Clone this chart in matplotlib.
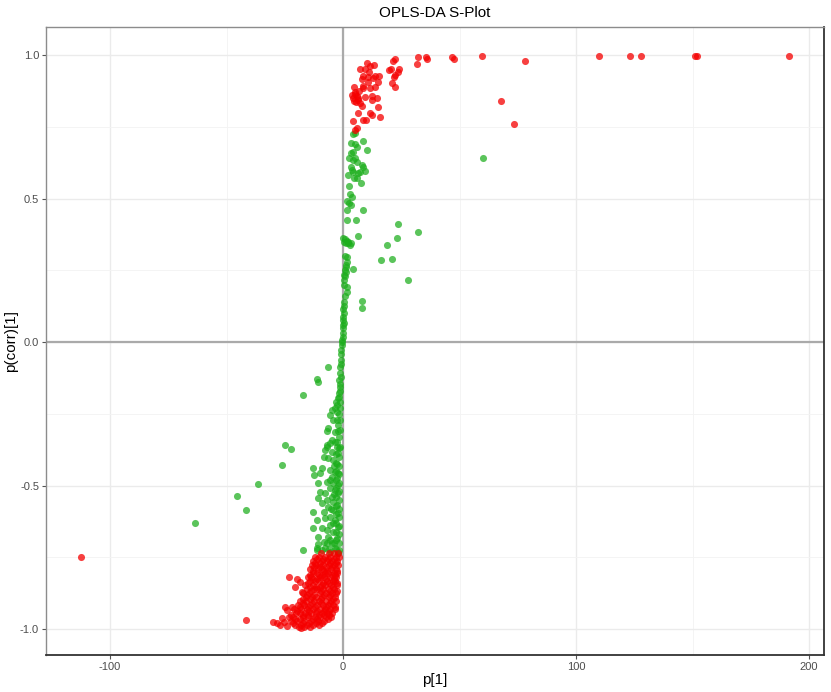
import matplotlib
matplotlib.use("Agg")
import matplotlib.pyplot as plt
from matplotlib.ticker import FixedLocator
import numpy as np

# p[1], p(corr)[1]
red_upper = [
    (32.3, 0.994), (31.9, 0.969), (35.5, 0.992), (36.2, 0.986), (46.9, 0.992), (47.8, 0.986),
    (59.8, 0.995), (78.1, 0.978), (67.7, 0.840), (73.4, 0.758), (109.7, 0.997), (123.2, 0.997),
    (127.9, 0.997), (151.1, 0.997), (151.8, 0.997), (191.3, 0.997),
    (22.3, 0.986), (21.6, 0.979), (20.5, 0.953), (19.9, 0.948), (24.2, 0.951), (23.7, 0.942),
    (22.3, 0.930), (21.9, 0.922), (20.9, 0.901), (22.3, 0.887),
    (10.2, 0.971), (11.6, 0.963), (13.4, 0.965), (7.3, 0.951), (9.4, 0.950), (8.7, 0.928),
    (10.9, 0.924), (13.7, 0.928), (15.6, 0.927), (8.0, 0.915), (13.0, 0.919), (15.2, 0.905),
    (4.7, 0.890), (8.7, 0.893), (8.5, 0.884), (11.6, 0.886), (13.7, 0.887), (5.2, 0.872),
    (5.9, 0.858), (4.4, 0.849), (6.6, 0.849), (9.4, 0.855), (12.3, 0.858), (14.5, 0.851),
    (5.6, 0.837), (7.3, 0.832), (8.0, 0.822), (12.3, 0.843), (15.2, 0.820), (6.6, 0.797),
    (11.6, 0.797), (12.3, 0.791), (15.9, 0.783), (4.4, 0.771), (8.7, 0.774), (9.9, 0.774),
    (5.2, 0.739), (5.9, 0.745), (3.7, 0.860), (5.0, 0.865), (6.2, 0.845), (4.8, 0.840),
    (7.0, 0.875), (10.5, 0.905), (11.0, 0.940),
]

red_lower_rows = {
    -0.735: [-9.5, -6.2, -3.8, -2.1],
    -0.748: [-12.1, -10.3, -7.9, -5.4, -3.1, -1.9],
    -0.755: [-11.0, -8.6, -6.3, -4.0],
    -0.762: [-12.8, -9.2, -7.0, -4.6, -2.6],
    -0.769: [-11.9, -10.1, -5.5, -3.2],
    -0.776: [-13.4, -11.6, -8.5, -6.1, -3.9, -2.3],
    -0.783: [-12.5, -9.9, -7.3, -4.7],
    -0.790: [-14.2, -10.7, -9.0, -5.3, -3.2],
    -0.797: [-13.0, -8.1, -6.9, -2.6],
    -0.803: [-12.9, -11.2, -7.6, -6.4, -4.1, -2.4],
    -0.811: [-14.0, -10.5, -9.2, -4.9, -3.5],
    -0.818: [-15.1, -13.6, -9.8, -8.2, -5.6, -2.9],
    -0.825: [-12.7, -11.0, -7.4, -4.0],
    -0.832: [-14.4, -11.9, -10.4, -6.9, -4.5, -3.3],
    -0.839: [-15.0, -8.6, -6.0, -2.6],
    -0.846: [-16.2, -13.0, -9.1, -7.8, -5.2, -2.8],
    -0.854: [-14.2, -11.8, -10.0, -4.3],
    -0.861: [-15.3, -12.6, -11.1, -8.7, -6.3, -3.9],
    -0.868: [-13.9, -9.4, -5.5, -2.7],
    -0.874: [-17.1, -14.8, -10.0, -7.3, -4.8, -2.9],
    -0.881: [-15.5, -12.3, -8.1, -5.7],
    -0.888: [-16.0, -13.2, -11.7, -8.9, -6.1, -3.6],
    -0.895: [-17.2, -14.4, -9.6, -4.5],
    -0.902: [-18.3, -15.7, -12.4, -10.2, -7.5, -5.0, -3.1],
    -0.909: [-17.0, -13.3, -9.3, -5.8],
    -0.916: [-19.4, -16.8, -14.0, -11.3, -8.6, -6.6, -4.2],
    -0.923: [-18.4, -15.1, -12.1, -7.3, -3.6],
    -0.930: [-21.2, -17.9, -15.4, -12.9, -10.1, -7.9, -5.4, -3.5],
    -0.937: [-19.6, -14.6, -11.0, -8.4, -6.0],
    -0.944: [-20.1, -18.6, -16.2, -13.7, -11.5, -9.0, -6.8, -4.6],
    -0.951: [-22.2, -17.4, -15.0, -10.4, -8.0, -5.9],
    -0.958: [-23.4, -21.6, -17.3, -14.9, -12.2, -9.7, -7.4, -5.3],
    -0.964: [-20.5, -18.4, -13.1, -11.0, -6.6],
    -0.971: [-22.3, -19.8, -16.6, -13.8, -10.9, -8.3],
    -0.978: [-21.5, -17.4, -14.6, -11.7, -9.2],
    -0.984: [-20.7, -18.2, -15.6, -12.7, -10.2],
    -0.993: [-19.0, -16.9, -14.1],
}

red_lower_extra = [
    (-23.0, -0.818), (-19.9, -0.827), (-18.5, -0.835), (-20.6, -0.852), (-17.7, -0.870),
    (-24.9, -0.922), (-24.2, -0.934), (-22.0, -0.922), (-29.9, -0.974), (-28.5, -0.980),
    (-27.0, -0.986), (-25.5, -0.975), (-26.0, -0.960), (-24.0, -0.990), (-18.0, -0.995),
    (-41.8, -0.969), (-112.4, -0.749),
]

green_upper = [
    (4.4, 0.725), (5.2, 0.729), (3.3, 0.694), (5.2, 0.690), (5.9, 0.681), (8.5, 0.701),
    (10.4, 0.669), (4.4, 0.663), (3.3, 0.657), (2.7, 0.643), (5.2, 0.643), (4.2, 0.634),
    (5.9, 0.628), (8.0, 0.617), (8.7, 0.611), (9.4, 0.597), (3.3, 0.611), (3.7, 0.599),
    (4.4, 0.593), (7.3, 0.593), (6.6, 0.588), (2.3, 0.582), (4.7, 0.570), (6.1, 0.570),
    (7.6, 0.553), (2.7, 0.544), (3.0, 0.516), (3.7, 0.506), (1.8, 0.492), (2.7, 0.485),
    (3.3, 0.477), (1.6, 0.460), (8.5, 0.460), (1.8, 0.425), (5.6, 0.427), (6.6, 0.369),
    (23.7, 0.410), (32.0, 0.382), (23.0, 0.361), (18.8, 0.338), (60.1, 0.641),
    (0.1, 0.361), (1.0, 0.360), (0.4, 0.349), (1.6, 0.353), (2.3, 0.344), (3.3, 0.346),
    (3.0, 0.338), (1.2, 0.345), (2.0, 0.350),
    (16.2, 0.286), (20.9, 0.289), (27.8, 0.216),
    (1.6, 0.297), (1.8, 0.280), (1.3, 0.262), (0.9, 0.251), (0.4, 0.233), (0.4, 0.216),
    (1.3, 0.245), (4.2, 0.253), (1.8, 0.191), (1.6, 0.175), (8.0, 0.143), (8.0, 0.120),
    (0.4, 0.125), (0.1, 0.117), (0.1, 0.088), (0.1, 0.077), (-0.1, 0.059), (-0.1, 0.048),
    (-0.1, 0.018), (-0.6, 0.007), (0.7, 0.300), (1.1, 0.270), (0.8, 0.230), (0.6, 0.200),
    (0.9, 0.160), (0.5, 0.140), (0.3, 0.100), (0.2, 0.065), (0.0, 0.030),
]

green_middle = [
    (-0.6, -0.010), (-0.6, 0.001), (-0.9, -0.028), (-1.0, -0.063), (-1.3, -0.086),
    (-1.3, -0.109), (-1.6, -0.132), (-1.3, -0.156), (-1.6, -0.179), (-6.3, -0.088),
    (-11.0, -0.127), (-10.6, -0.138), (-17.0, -0.185), (-2.0, -0.196), (-3.0, -0.208),
    (-2.4, -0.220), (-3.4, -0.231), (-2.7, -0.243), (-4.8, -0.237), (-5.6, -0.254),
    (-4.2, -0.272), (-2.7, -0.272), (-2.0, -0.289), (-1.3, -0.307), (-6.3, -0.301),
    (-3.4, -0.313), (-4.8, -0.341), (-2.7, -0.347), (-7.0, -0.365), (-1.3, -0.365),
    (-6.9, -0.310), (-0.8, -0.040), (-1.1, -0.075), (-1.0, -0.120), (-1.4, -0.145),
    (-1.2, -0.170), (-1.8, -0.190), (-1.5, -0.210), (-1.2, -0.230), (-1.6, -0.250),
    (-1.5, -0.270), (-1.8, -0.330), (-2.2, -0.310),
    (-24.9, -0.359), (-22.4, -0.374), (-26.3, -0.429), (-36.5, -0.495), (-45.5, -0.537),
    (-41.6, -0.585), (-63.5, -0.631),
]

green_lower = [
    (-7.0, -0.359), (-5.6, -0.353), (-3.4, -0.347), (-2.7, -0.365), (-7.7, -0.376),
    (-4.8, -0.382), (-2.0, -0.388), (-8.4, -0.399), (-6.3, -0.405), (-4.2, -0.411),
    (-2.7, -0.423), (-12.7, -0.440), (-9.2, -0.440), (-5.6, -0.446), (-3.4, -0.452),
    (-2.0, -0.457), (-9.9, -0.457), (-12.4, -0.463), (-4.8, -0.469), (-2.7, -0.475),
    (-7.0, -0.486), (-4.2, -0.492), (-2.0, -0.498), (-10.6, -0.492), (-5.6, -0.510),
    (-3.4, -0.516), (-9.9, -0.521), (-7.7, -0.527), (-2.0, -0.527), (-4.8, -0.539),
    (-10.6, -0.544), (-7.0, -0.550), (-4.2, -0.556), (-2.7, -0.568), (-9.2, -0.562),
    (-6.3, -0.574), (-4.2, -0.585), (-12.7, -0.591), (-8.4, -0.591), (-2.0, -0.597),
    (-5.6, -0.609), (-11.3, -0.620), (-7.7, -0.614), (-3.4, -0.620), (-5.6, -0.638),
    (-2.0, -0.643), (-12.7, -0.649), (-9.2, -0.649), (-7.0, -0.655), (-4.2, -0.661),
    (-10.6, -0.678), (-6.3, -0.678), (-2.7, -0.684), (-8.4, -0.696), (-4.8, -0.701),
    (-11.3, -0.719), (-7.7, -0.719), (-3.4, -0.719), (-2.0, -0.731), (-17.0, -0.725),
    (-9.2, -0.725), (-5.6, -0.731), (-11.3, -0.725), (-10.6, -0.704),
    (-1.6, -0.37), (-3.0, -0.39), (-1.6, -0.40), (-3.0, -0.42), (-1.6, -0.43), (-3.0, -0.45),
    (-1.6, -0.46), (-3.0, -0.48), (-1.6, -0.49), (-3.0, -0.51), (-1.6, -0.52), (-3.0, -0.54),
    (-1.6, -0.55), (-3.0, -0.57), (-1.6, -0.58), (-3.0, -0.60), (-1.6, -0.61), (-3.0, -0.63),
    (-1.6, -0.64), (-3.0, -0.66), (-1.6, -0.67), (-3.0, -0.69), (-1.6, -0.70), (-3.0, -0.72),
    (-1.6, -0.725), (-4.0, -0.70), (-5.5, -0.69), (-4.5, -0.63), (-5.0, -0.58), (-4.0, -0.53),
    (-5.5, -0.48), (-4.0, -0.43), (-6.0, -0.72), (-7.0, -0.70), (-2.2, -0.735),
]

x_ticks = [-100, 0, 100, 200]
y_ticks = [-1.0, -0.5, 0.0, 0.5, 1.0]
y_tick_labels = ["-1.0", "-0.5", "0.0", "0.5", "1.0"]

RED = "#F50000"
GREEN = "#1CAE1C"

red_lower = [(x, y) for y, xs in red_lower_rows.items() for x in xs] + red_lower_extra
red_pts = np.array(red_upper + red_lower)
green_pts = np.array(green_upper + green_middle + green_lower)

plt.rcParams["font.family"] = ["Liberation Sans", "DejaVu Sans"]
plt.rcParams["axes.unicode_minus"] = False

fig = plt.figure(figsize=(8.31, 6.92), dpi=100)
ax = fig.add_axes([46 / 831, 37 / 692, 778 / 831, 628 / 692])

ax.set_xlim(-127.5, 206.4)
ax.set_ylim(-1.09, 1.0976)

# grid like theme_bw
ax.xaxis.set_major_locator(FixedLocator(x_ticks))
ax.xaxis.set_minor_locator(FixedLocator([-50, 50, 150]))
ax.yaxis.set_major_locator(FixedLocator(y_ticks))
ax.yaxis.set_minor_locator(FixedLocator([-0.75, -0.25, 0.25, 0.75]))
ax.set_yticklabels(y_tick_labels)
ax.grid(which="major", color="#EBEBEB", linewidth=1.0, zorder=0)
ax.grid(which="minor", color="#F3F3F3", linewidth=0.6, zorder=0)
ax.set_axisbelow(True)

ax.axvline(0, color="#AAAAAA", linewidth=1.6, zorder=1)
ax.axhline(0, color="#AAAAAA", linewidth=1.6, zorder=1)

ax.scatter(green_pts[:, 0], green_pts[:, 1], s=26, color=GREEN, alpha=0.72,
           linewidths=0, zorder=2)
ax.scatter(red_pts[:, 0], red_pts[:, 1], s=26, color=RED, alpha=0.75,
           linewidths=0, zorder=3)

for side in ["top", "left"]:
    ax.spines[side].set_color("#8C8C8C")
    ax.spines[side].set_linewidth(1.0)
for side in ["bottom", "right"]:
    ax.spines[side].set_color("#333333")
    ax.spines[side].set_linewidth(1.3)

ax.tick_params(which="major", length=3, width=0.8, color="#555555",
               labelsize=8, labelcolor="#4D4D4D", pad=2)
ax.tick_params(which="minor", length=0)

narrow = ["Liberation Sans Narrow", "Liberation Sans", "DejaVu Sans"]
for lab in ax.get_xticklabels() + ax.get_yticklabels():
    lab.set_family(narrow)

ax.set_xlabel("p[1]", fontsize=11, family=narrow, labelpad=1)
ax.set_ylabel("p(corr)[1]", fontsize=11, family=narrow, labelpad=1)
ax.set_title("OPLS-DA S-Plot", fontsize=11, pad=7)

fig.savefig("out.png", dpi=100)
